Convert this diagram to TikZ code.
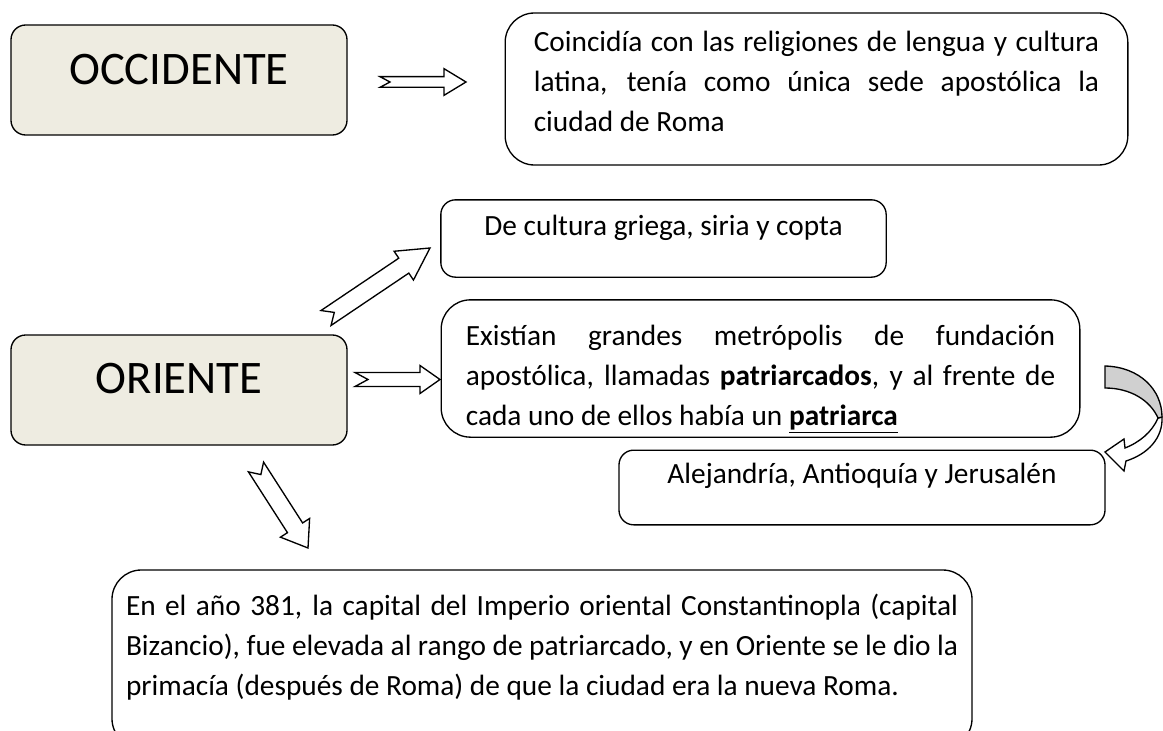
\documentclass[tikz,border=0pt]{standalone}
\usepackage{fontspec}
\setmainfont{Carlito}
\usetikzlibrary{calc}
\hyphenpenalty=10000
\exhyphenpenalty=10000
\tolerance=10000
\definecolor{boxfill}{HTML}{EEECE1}
\definecolor{bandgray}{HTML}{D0D0D0}
\newcommand\lift[1]{\rule[-#1]{0pt}{#1}}
% hollow arrow: tail, tip, shaft half, head half, head length, notch
\newcommand\blockarrow[6]{%
  \coordinate (bh) at ($(#2)!#5!(#1)$);
  \draw[arrowline] ($(#1)!#3!90:(#2)$) -- ($(bh)!#3!90:(#2)$) -- ($(bh)!#4!90:(#2)$) -- (#2)
    -- ($(bh)!#4!-90:(#2)$) -- ($(bh)!#3!-90:(#2)$) -- ($(#1)!#3!-90:(#2)$) -- ($(#1)!#6!(#2)$) -- cycle;}
\tikzset{every node/.style={font=\fontsize{22pt}{30pt}\selectfont, inner sep=0pt},
  bigbox/.style={draw, fill=boxfill, rounded corners=11pt, line width=1pt, minimum width=252pt, minimum height=82.5pt, font=\fontsize{35pt}{42pt}\selectfont},
  textbox/.style={draw, fill=white, rounded corners=22pt, line width=1pt},
  smallbox/.style={textbox, rounded corners=11pt},
  arrowline/.style={draw=black, fill=white, line width=1pt, line join=miter}}

\begin{document}
\begin{tikzpicture}[x=0.75pt, y=-0.75pt]
  \useasboundingbox (0,0) rectangle (1163,731);

  \node[bigbox] (occ) at (179,80) {OCCIDENTE\lift{16pt}};
  \node[textbox, minimum width=467pt, minimum height=114pt, text width=424pt, align=justify] (occtxt) at (816.5,89)
    {Coincidía con las religiones de lengua y cultura\linebreak latina, tenía como única sede apostólica la\linebreak ciudad de Roma\lift{11pt}};
  \node[smallbox, minimum width=334pt, minimum height=58pt] (cult) at (663.5,238.5) {De cultura griega, siria y copta\lift{20pt}};
  \node[textbox, minimum width=479pt, minimum height=103pt, text width=442pt, align=justify] (metro) at (760.5,368.5)
    {\rule{0pt}{31pt}Existían grandes metrópolis de fundación\linebreak apostólica, llamadas \textbf{patriarcados}, y al frente de\linebreak cada uno de ellos había un \underline{\textbf{patriarca}}};
  \node[bigbox] (ori) at (179,390) {ORIENTE\lift{18pt}};
  \node[smallbox, minimum width=364.5pt, minimum height=56pt] (sedes) at (862,487.5) {Alejandría, Antioquía y Jerusalén\lift{22pt}};
  \node[textbox, minimum width=645pt, minimum height=133.5pt, text width=624pt, align=justify] (bizan) at (542,659)
    {En el año 381, la capital del Imperio oriental Constantinopla (capital\linebreak
     Bizancio), fue elevada al rango de patriarcado, y en Oriente se le dio la\linebreak
     primacía (después de Roma) de que la ciudad era la nueva Roma.\lift{22pt}};

  \coordinate (a1) at (380,82);
  \coordinate (a2) at (466,82);
  \coordinate (b1) at (355,379.5);
  \coordinate (b2) at (440,379.5);
  \coordinate (c1) at (326,318);
  \coordinate (c2) at (430,248);
  \coordinate (d1) at (256,467);
  \coordinate (d2) at (308,548);
  \blockarrow{a1}{a2}{4pt}{10pt}{16.5pt}{7.5pt}
  \blockarrow{b1}{b2}{5.25pt}{10.5pt}{15pt}{9.75pt}
  \blockarrow{c1}{c2}{6.75pt}{13pt}{23.7pt}{7.5pt}
  \blockarrow{d1}{d2}{6.75pt}{13pt}{18pt}{6.75pt}

  % curved arrow from metro down to sedes
  \draw[arrowline] (1158,418) .. controls (1152,432) and (1140,442) .. (1125,448) -- (1124,439) -- (1105,452)
    -- (1124,471) -- (1126,461) .. controls (1148,454) and (1163,438) .. (1162,417) -- cycle;
  \draw[arrowline, fill=bandgray] (1105,366) .. controls (1140,367) and (1162,390) .. (1162,417)
    -- (1158,418) .. controls (1150,400) and (1130,388) .. (1105,388) -- cycle;
\end{tikzpicture}
\end{document}
